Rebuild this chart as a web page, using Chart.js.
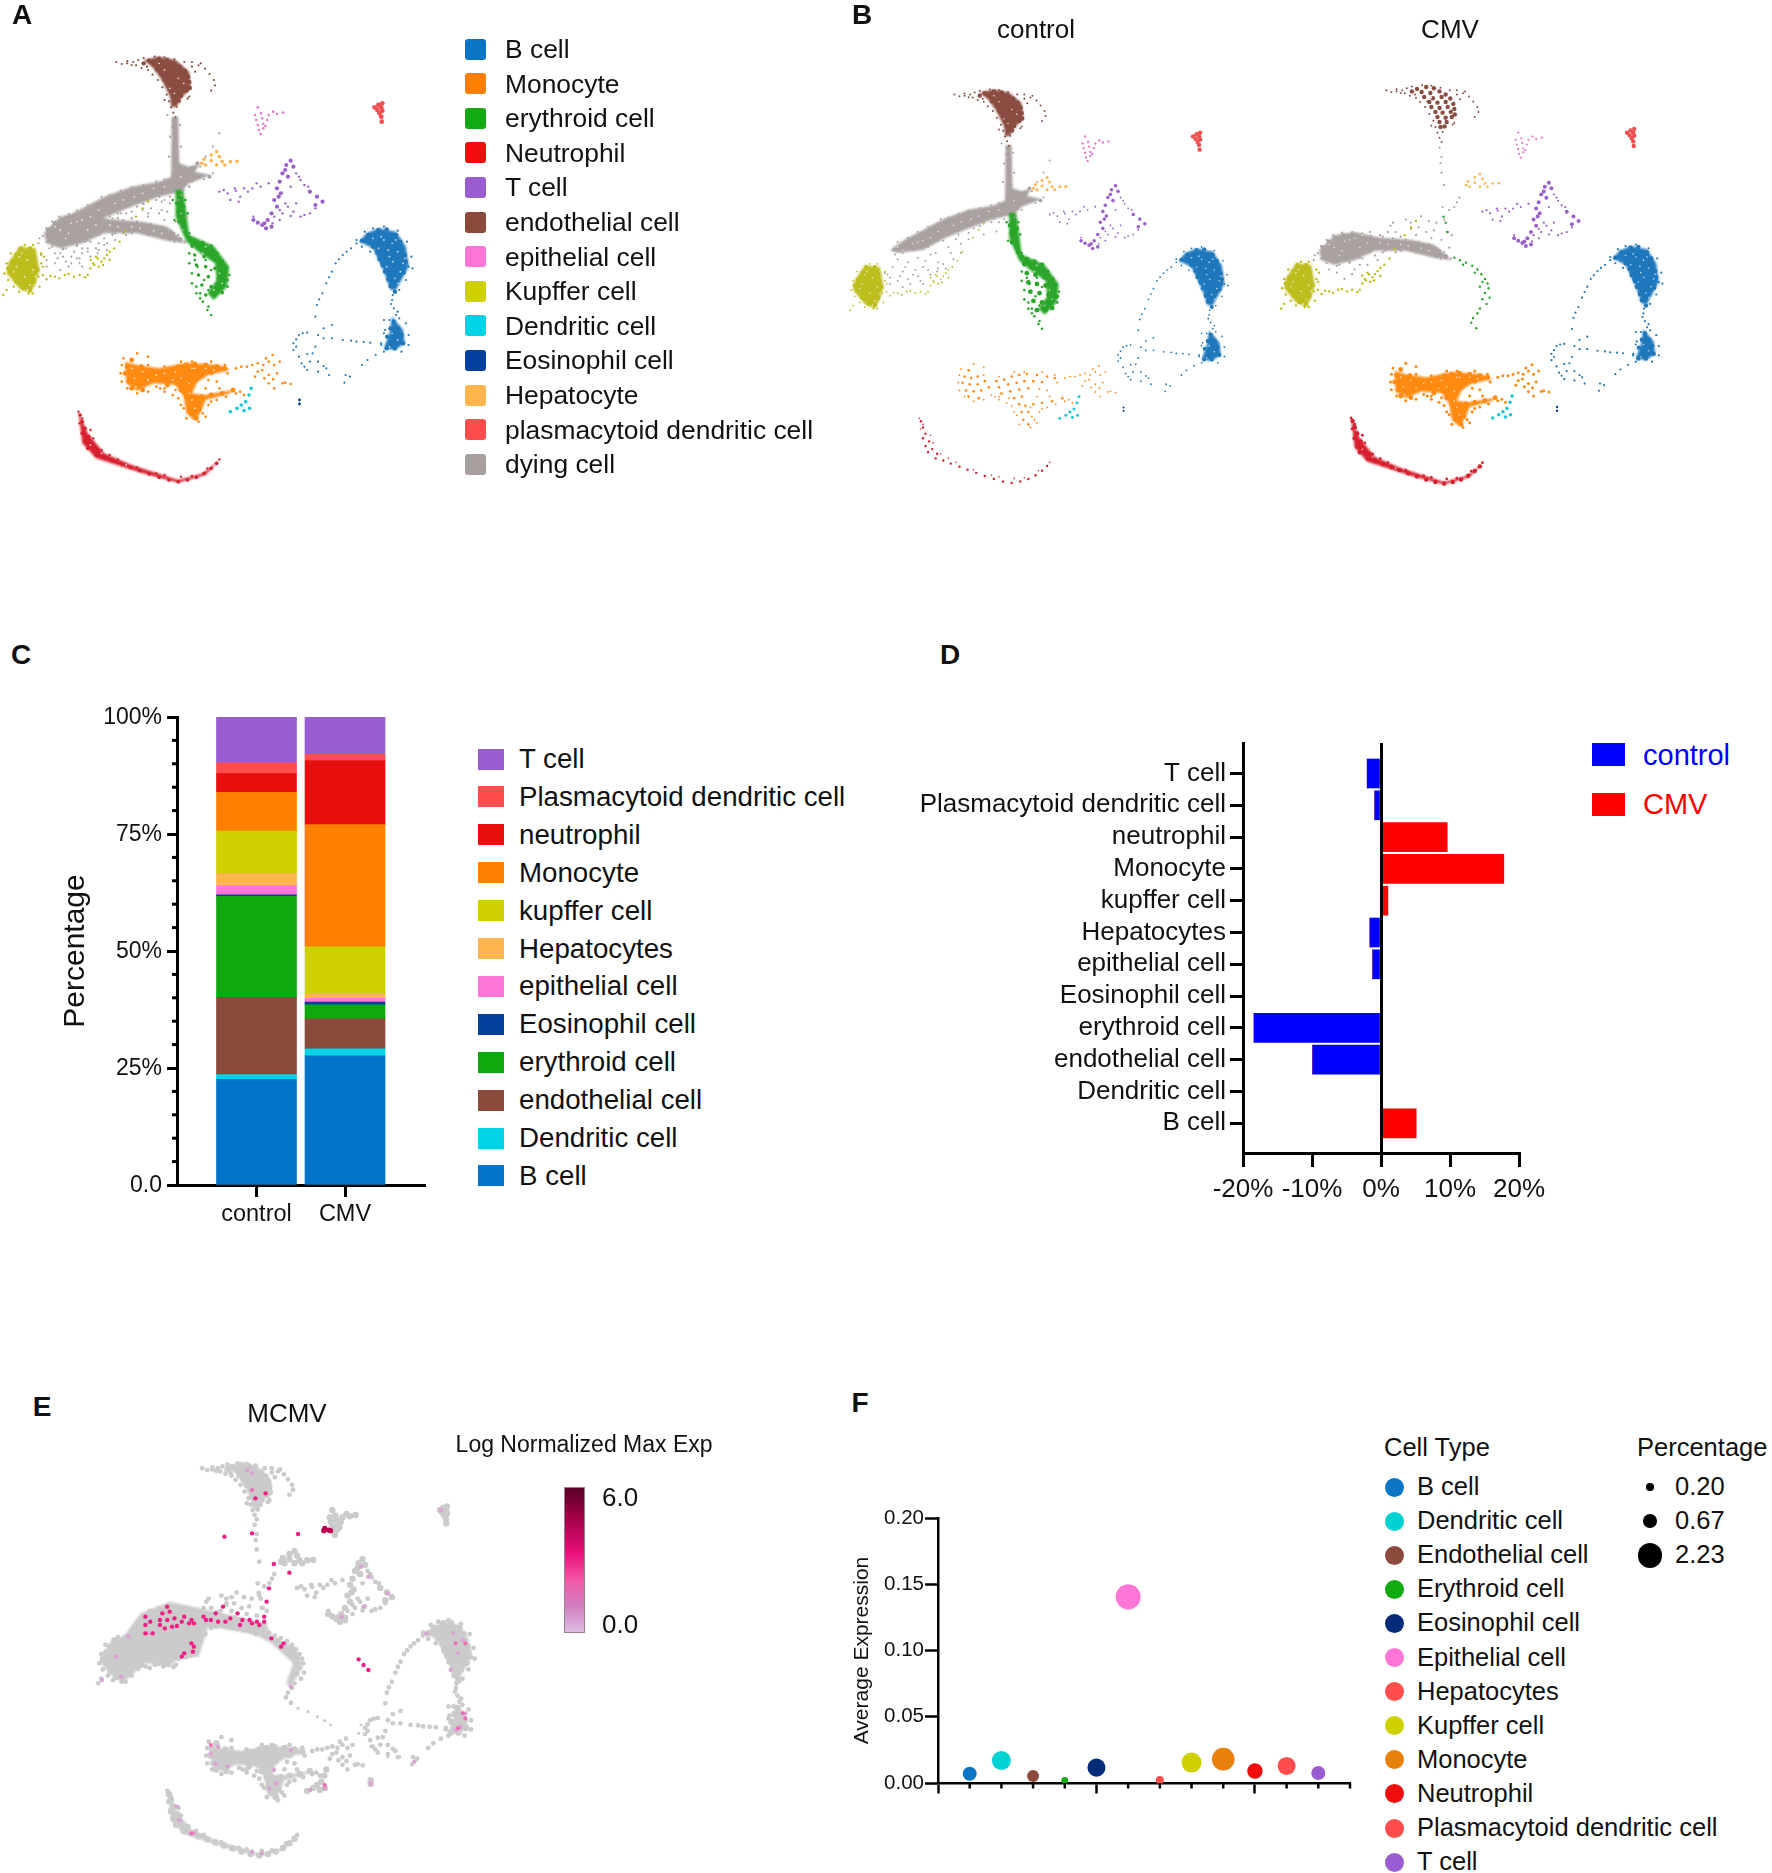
<!DOCTYPE html>
<html>
<head>
<meta charset="utf-8">
<title>CMV cell atlas</title>
<script src="https://cdn.jsdelivr.net/npm/chart.js@4"></script>
<style>
html,body{margin:0;padding:0;background:#fff;}
#page{position:relative;width:1772px;height:1873px;overflow:hidden;font-family:"Liberation Sans",Arial,sans-serif;color:#111;}
#page canvas{position:absolute;}
.t{position:absolute;white-space:nowrap;line-height:1;}
.sw{position:absolute;}
</style>
</head>
<body>
<div id="page"></div>
<script>
// panel C / D categories, bottom to top
const cellTypes = ['B cell','Dendritic cell','endothelial cell','erythroid cell','Eosinophil cell','epithelial cell','Hepatocytes','kupffer cell','Monocyte','neutrophil','Plasmacytoid dendritic cell','T cell'];
const groups = ['control','CMV'];
const controlShare = [22.6,1.0,16.5,21.6,0.3,2.0,2.6,9.0,8.3,4.0,2.3,9.9];
const cmvShare = [27.6,1.5,6.4,3.0,0.6,0.8,0.9,10.1,26.1,13.7,1.3,8.0];
const controlDiff = [0,0,-9.9,-18.4,0,-1.2,-1.6,0,0,0,-0.9,-2.0];
const cmvDiff = [5.1,0.2,0,0,0,0,0,1.0,17.8,9.6,0,0];

// panel F
const fTypes = ['B cell','Dendritic cell','Endothelial cell','Erythroid cell','Eosinophil cell','Epithelial cell','Hepatocytes','Kupffer cell','Monocyte','Neutrophil','Plasmacytoid dendritic cell','T cell'];
const avgExpression = [0.007,0.017,0.0053,0.002,0.0116,0.1405,0.0023,0.0154,0.018,0.009,0.0129,0.0076];
const percentage = [0.70,1.29,0.51,0.17,1.16,2.23,0.23,1.43,1.82,0.85,1.16,0.70];
const percentLegend = [0.20,0.67,2.23];

// UMAP points (same embedding for panels A, B, E)
const endothelialCore = [[272,182],[290,176],[305,180],[262,190],[281,192],[298,195],[316,190],[328,200],[286,208],[303,212],[320,208],[337,213],[296,224],[312,226],[328,224],[343,230],[300,240],[316,243],[332,240],[345,246],[308,256],[322,258],[338,255],[346,264],[312,272],[328,274],[340,272],[316,288],[330,288],[318,304],[326,302]];
const endothelialFringe = [[212,186],[222,192],[232,190],[243,186],[252,180],[262,174],[282,170],[300,172],[318,178],[336,186],[350,186],[362,196],[374,206],[382,222],[390,240],[392,256],[385,272],[248,196],[258,204],[270,210],[278,224],[288,240],[296,262],[304,284],[308,304],[312,322],[322,320],[316,338],[320,352],[345,290],[350,200],[356,215],[240,195],[268,200],[232,183],[366,190],[342,296],[300,300],[292,222]];
const dyingControlCore = [[317,360],[316,380],[318,400],[319,420],[320,440],[320,460],[322,480],[326,498],[330,515],[322,525],[340,520],[350,505],[330,535],[345,535],[318,545],[335,550],[360,490],[352,510],[365,528],[382,530],[305,552],[290,560],[300,568],[275,565],[262,572],[280,578],[250,576],[240,585],[258,590],[225,590],[210,598],[232,604],[195,605],[212,615],[180,618],[195,628],[165,635],[150,648],[170,650],[135,660],[150,668],[118,672]];
const dyingControlFringe = [[110,700],[130,690],[160,680],[190,660],[220,640],[250,620],[270,600],[100,720],[120,730],[140,715],[165,705],[90,745],[110,760],[130,770],[150,745],[180,730],[205,700],[225,670],[85,780],[100,790],[125,800],[145,790],[165,770],[195,750],[300,600],[310,590],[330,585],[345,560],[372,538],[388,520],[365,500],[375,470],[388,440],[400,400],[95,705],[115,745],[135,755],[155,725],[175,700],[200,680],[215,655],[240,635],[262,612],[285,600],[105,775],[120,785],[140,775],[160,755],[178,760],[190,735],[210,720],[225,700],[240,655],[270,640],[295,630],[75,765],[85,800],[110,810],[150,800],[180,750],[305,345],[328,375],[310,410],[330,440],[308,470],[185,590],[200,585],[220,572],[240,562],[262,555],[285,545],[300,538],[315,525],[310,575],[290,590],[265,598],[240,612],[220,628],[200,642],[180,660],[160,675],[135,688],[110,692],[92,692],[100,665],[120,650],[140,632],[160,615]];
const dyingCmvCore = [[88,690],[100,672],[112,660],[128,652],[145,650],[105,690],[122,675],[140,668],[158,660],[95,710],[115,705],[132,695],[150,685],[168,675],[180,665],[198,668],[215,670],[232,672],[250,675],[268,680],[285,685],[300,692],[315,702],[328,718],[110,725],[130,720],[150,710],[170,695],[190,685],[210,688],[235,690],[262,695],[290,700],[310,715]];
const dyingCmvFringe = [[140,735],[165,725],[190,715],[120,745],[150,760],[175,745],[100,760],[130,790],[200,650],[230,640],[260,630],[290,640],[220,620],[250,600],[280,590],[310,610],[330,640],[300,660],[270,650],[325,600],[322,560],[345,560],[355,530],[320,450],[318,420],[320,400],[316,370],[325,490],[340,650],[180,640],[240,655],[215,640],[275,625],[305,635],[320,665],[335,690],[160,745],[205,705],[230,705],[115,770],[145,775],[195,730],[225,610],[260,610],[295,605],[335,570],[350,545],[78,708],[84,685],[95,665],[108,650],[125,642],[145,640],[165,645],[182,652],[205,655],[225,660],[250,665],[275,672],[295,680],[312,692],[325,705],[338,725],[318,725],[295,712],[270,705],[240,700],[210,700],[180,705],[160,722],[140,738],[115,748],[95,740],[85,725],[70,730],[72,715]];
const kupfferCore = [[38,745],[55,745],[30,765],[48,762],[62,770],[22,785],[40,785],[58,790],[15,805],[32,805],[50,808],[68,810],[25,825],[42,825],[60,828],[30,845],[48,848],[62,845],[42,865],[55,870]];
const kupfferFringe = [[8,820],[12,870],[6,885],[70,830],[85,838],[100,830],[118,825],[135,830],[155,832],[160,825],[172,795],[185,785],[178,775],[195,765],[208,745],[218,725],[228,695],[248,650],[260,625],[270,605],[52,880],[78,825],[92,828],[108,835],[125,822],[145,825],[165,805],[190,775],[200,755],[75,790],[80,770],[170,790],[180,800],[175,770],[188,795],[200,780],[165,780],[20,760],[12,790],[15,840],[25,860],[35,875],[60,880],[72,860],[78,800],[75,760],[60,735],[45,735]];
const hepatocyteCore = [[385,465],[395,455],[400,470],[385,482],[372,478],[405,485],[420,485],[432,484],[395,495],[375,495],[368,490],[410,495]];
const epithelialCore = [[470,322],[476,340],[490,345],[505,342],[516,338],[467,360],[470,375],[480,372],[487,360],[472,390],[480,385],[484,378],[475,402],[498,335],[465,345],[478,355]];
const pdcCore = [[690,315],[683,322],[695,322],[688,330],[697,332],[692,340],[697,310],[695,350],[696,365]];
const tCellCore = [[530,482],[522,495],[535,500],[515,520],[525,530],[510,545],[505,565],[512,580],[500,600],[505,620],[495,640],[488,660],[478,675],[470,668],[485,685],[565,575],[578,590],[588,605],[575,615],[520,510],[508,590],[482,670],[462,660],[495,680]];
const tCellFringe = [[540,520],[548,540],[555,555],[530,560],[500,650],[515,640],[530,648],[548,650],[565,640],[575,625],[400,575],[415,580],[430,572],[445,565],[460,565],[475,560],[490,550],[420,600],[435,605],[462,650],[510,660],[525,620],[540,610],[408,570],[438,590],[452,575],[468,550],[545,530],[562,560],[520,610],[535,635],[555,645],[497,670],[510,630],[428,565]];
const erythroidControlCore = [[325,578],[330,595],[322,610],[335,620],[325,635],[332,650],[326,665],[335,680],[338,695],[345,712],[355,720],[370,728],[385,738],[350,735],[365,745],[380,755],[395,760],[355,765],[372,770],[390,778],[405,785],[358,795],[375,800],[392,805],[410,810],[362,825],[380,830],[398,835],[414,840],[368,855],[385,860],[400,865],[375,885],[392,885],[405,878]];
const erythroidControlFringe = [[350,850],[358,880],[370,905],[380,920],[385,945],[378,930],[415,860],[345,790],[345,760],[418,825],[365,895],[350,740],[355,780],[350,820],[358,860],[365,880],[360,800],[370,745],[375,780],[385,810],[380,870],[372,840],[345,700],[315,600],[342,640],[318,660],[338,600]];
const erythroidCmvFringe = [[324,591],[328,610],[332,640],[345,722],[356,730],[368,738],[380,748],[390,760],[398,775],[405,790],[410,805],[400,800],[412,820],[405,835],[414,850],[400,855],[408,870],[395,885],[390,900],[382,915],[378,930],[388,948],[362,745],[385,770],[395,815]];
const bCellCore = [[690,690],[705,688],[672,705],[688,705],[705,705],[722,705],[660,722],[678,722],[695,722],[712,722],[730,725],[680,740],[696,740],[713,740],[732,745],[688,758],[705,758],[722,760],[738,765],[692,778],[708,778],[725,780],[740,785],[698,796],[715,798],[732,800],[702,815],[720,818],[736,818],[708,838],[725,838],[712,858],[720,875],[718,965],[726,985],[712,985],[732,1005],[718,1005],[706,1010],[725,1025],[712,1030],[735,1030],[720,1045],[705,1045]];
const bCellFringe = [[650,730],[640,745],[625,765],[612,790],[605,815],[595,850],[588,880],[578,915],[575,950],[590,985],[605,975],[605,1015],[625,1020],[650,1025],[675,1028],[695,1035],[535,1030],[545,1005],[560,998],[580,1005],[590,1015],[535,1050],[545,1070],[560,1062],[575,1040],[550,1090],[565,1085],[580,1085],[560,1110],[580,1115],[595,1105],[600,1125],[630,1125],[628,1148],[638,1130],[660,1095],[685,1065],[715,900],[718,925],[722,945],[700,960],[745,800],[650,720],[700,1000],[716,885],[713,912],[725,935],[728,955],[632,755],[618,778],[600,832],[582,898],[640,1022],[663,1026],[540,1018],[552,1000],[540,1040],[570,1060],[555,1100],[590,1098],[670,1080],[665,695],[680,685],[700,680],[725,692],[742,725],[750,770],[752,805],[740,840],[728,870],[695,790],[690,770],[675,755],[660,740],[740,970],[745,1005],[745,1035],[732,1055],[700,1055],[695,1030],[702,990],[710,960]];
const monocyteCore = [[240,1080],[232,1100],[245,1105],[258,1100],[228,1120],[242,1125],[258,1125],[272,1115],[235,1145],[250,1148],[265,1145],[280,1135],[295,1115],[310,1110],[325,1100],[340,1095],[355,1092],[375,1095],[395,1100],[410,1105],[300,1135],[318,1125],[335,1120],[350,1115],[368,1115],[385,1118],[305,1155],[322,1148],[340,1142],[358,1138],[330,1170],[345,1165],[340,1190],[352,1195],[368,1190],[345,1215],[358,1215],[348,1240],[358,1255],[385,1185],[405,1180],[425,1170],[240,1165],[260,1170]];
const monocyteFringe = [[430,1105],[450,1100],[470,1090],[485,1075],[497,1065],[480,1095],[500,1095],[510,1085],[470,1115],[490,1125],[505,1120],[465,1130],[490,1150],[500,1165],[515,1150],[530,1152],[380,1140],[400,1165],[375,1165],[445,1185],[412,1190],[395,1200],[380,1215],[365,1230],[225,1075],[285,1160],[300,1175],[315,1185],[335,1225],[250,1060],[270,1070],[440,1100],[460,1095],[490,1085],[478,1110],[498,1138],[482,1135],[520,1148],[395,1145],[415,1120],[438,1175],[370,1240],[362,1200],[320,1170],[292,1165],[222,1095],[220,1120],[222,1145],[232,1165],[250,1180],[270,1175],[300,1165],[350,1085],[385,1085],[410,1095],[330,1085],[300,1100],[270,1095],[375,1250],[362,1265],[340,1255],[330,1215],[325,1195],[430,1180],[385,1205]];
const dendriticCore = [[458,1165],[454,1185],[448,1205],[455,1225],[445,1232],[432,1225],[420,1235],[440,1215]];
const eosinophilCore = [[546,1200],[546,1212]];
const neutrophilCore = [[146,1245],[150,1265],[155,1285],[150,1300],[162,1310],[155,1325],[168,1335],[160,1345],[178,1350],[175,1365],[190,1372],[205,1382],[222,1392],[238,1402],[255,1412],[272,1422],[290,1432],[308,1440],[325,1445],[342,1440],[358,1432],[372,1420],[385,1405],[395,1390]];
const neutrophilFringe = [[143,1235],[145,1270],[165,1290],[185,1350],[200,1365],[300,1425],[330,1430],[400,1378],[150,1255],[170,1315],[215,1378],[250,1402],[285,1420],[350,1428],[378,1405]];

// dense parts of the clusters, as outlines
const endothelialOutline = [[262,180],[290,170],[320,180],[345,215],[348,265],[330,295],[322,320],[312,322],[310,290],[295,240],[280,205]];
const dyingControlOutline = [[313,350],[325,350],[327,490],[345,500],[365,490],[355,515],[385,525],[345,550],[330,575],[290,590],[240,620],[195,650],[150,690],[100,700],[85,690],[115,655],[150,625],[190,590],[240,560],[290,545],[312,530]];
const dyingCmvOutline = [[80,700],[110,650],[150,640],[200,658],[260,665],[305,680],[340,730],[305,722],[250,700],[190,700],[150,730],[110,745],[85,730]];
const kupfferOutline = [[35,740],[65,745],[72,810],[65,850],[55,880],[35,865],[12,820],[15,790]];
const erythroidOutline = [[320,570],[334,570],[340,640],[345,705],[390,738],[418,800],[414,860],[390,900],[378,880],[395,840],[392,790],[365,760],[340,725],[320,650]];
const bTopOutline = [[690,685],[722,695],[740,740],[745,800],[735,830],[722,870],[712,870],[700,815],[680,745],[655,725],[668,700]];
const bLowOutline = [[715,950],[735,990],[738,1030],[720,1050],[700,1045],[710,1000]];
const monocyteOutline = [[228,1085],[250,1095],[290,1105],[340,1088],[400,1095],[420,1110],[380,1125],[360,1145],[350,1180],[372,1185],[425,1170],[420,1180],[375,1200],[365,1240],[355,1262],[340,1240],[335,1190],[320,1155],[280,1150],[250,1172],[230,1150]];
const neutrophilOutline = [[143,1235],[160,1300],[190,1360],[240,1395],[325,1440],[370,1420],[402,1378],[375,1425],[325,1448],[260,1420],[175,1375],[150,1330]];
// grey body of the dying/kupffer lobe, in panel E's own frame
const mcmvLobeOutline = [[290,700],[350,665],[430,690],[520,720],[550,730],[560,770],[610,800],[625,860],[600,920],[590,910],[605,850],[560,790],[520,760],[430,740],[410,830],[370,835],[350,860],[300,850],[260,900],[235,880],[210,850],[225,800],[260,760]];

// paler specks inside the dense parts
const specks = [[300,210],[325,235],[310,265],[335,250],[290,190],[318,280],[300,560],[260,580],[225,600],[180,630],[130,670],[330,530],[110,690],[140,665],[175,675],[215,680],[255,685],[295,700],[125,700],[160,690],[30,800],[50,780],[45,830],[60,810],[35,770],[55,855],[370,760],[385,790],[400,820],[380,850],[365,810],[390,870],[405,850],[375,740],[360,780],[695,710],[715,730],[690,745],[725,755],[710,770],[735,790],[705,800],[720,835],[700,720],[730,815],[715,1000],[725,1020],[710,1040],[260,1115],[245,1135],[300,1120],[330,1135],[355,1105],[390,1110],[345,1180],[355,1225],[270,1140],[315,1140],[240,1105],[375,1105],[165,1335],[185,1360],[230,1395],[100,680],[150,660],[120,715],[200,675],[240,680],[280,692],[210,610],[245,590],[280,565],[165,650],[40,760],[25,815],[65,830],[50,870],[680,715],[722,720],[708,750],[738,775],[716,785],[726,850],[350,1105],[320,1115],[285,1125],[248,1160],[345,1150],[350,1200]];

// panel E viral expression, in that panel's own frame
const mcmvExtraGrey = [[590,955],[600,970],[615,985],[635,995],[655,1010],[670,1022],[682,1035],[745,1035],[740,1060],[765,1100],[800,1130],[825,1130]];
const mcmvLow = [[240,830],[265,770],[305,760],[250,890],[210,900],[435,1120],[445,1150],[470,1160],[565,1170],[555,1225],[570,1210],[450,1100],[600,1110],[365,1280],[370,1320],[400,1360],[520,1415],[540,1420],[760,590],[745,560],[800,640],[705,710],[750,680],[910,390],[880,760],[935,760],[955,780],[945,820],[960,1000],[950,1040],[940,1050],[855,1145],[670,1225],[640,1230],[765,1210],[520,280],[510,270],[600,920],[930,870]];
const mcmvMid = [[940,790],[955,1000],[960,1015],[945,1045],[395,1360],[520,330],[435,1095],[670,1215],[960,790]];
const mcmvHigh = [[345,680],[300,710],[310,725],[330,735],[345,720],[360,715],[375,725],[390,730],[365,738],[340,745],[400,730],[420,710],[435,720],[450,725],[465,725],[460,680],[490,700],[495,735],[515,720],[530,725],[545,710],[545,725],[560,775],[580,800],[398,815],[375,830],[550,665],[527,355],[520,460],[548,340],[565,552],[597,578],[555,625],[463,470],[615,462],[740,838],[750,855],[760,870],[300,735],[315,760],[335,700],[350,695],[355,740],[380,710],[395,720],[330,720],[300,760],[395,790],[400,800],[380,820],[425,720],[445,700],[475,715],[500,720],[520,730],[535,735],[585,790]];
const mcmvTop = [[670,445],[678,450],[682,452],[668,452]];

// styles
const umapColor = {b:'#1F78BC',mono:'#FF8A12',ery:'#2BA62B',neu:'#D7202E',t:'#9A60CC',endo:'#8B4D42',epi:'#E878D2',kup:'#BDBD1E',dc:'#1CC8D8',eos:'#0A3C8C',hep:'#FDB44D',pdc:'#EE5050',dying:'#A9A2A0'};
const stackColor = ['#0075C9','#00D3E8','#8B4A3B','#0FA90F','#023F9E','#FF76D7','#FFB54D','#CFD000','#FF8000','#E80E0E','#FF4D4D','#995CD1'];
const fColor = ['#0A75C5','#00D2D2','#8B4A3B','#11AA11','#022C7A','#FF76D7','#FF4D4D','#CFD000','#E8800C','#F00D0D','#FF4D4D','#995CD1'];

const page = document.getElementById('page');
Chart.defaults.font.family = '"Liberation Sans",Arial,sans-serif';
Chart.defaults.color = '#111';
Chart.defaults.animation = false;

function text(str,x,y,size,opts){
    opts = opts || {};
    const el = document.createElement('div');
    el.className = 't';
    el.textContent = str;
    el.style.left = x+'px';
    el.style.top = y+'px';
    el.style.fontSize = size+'px';
    if(opts.bold) el.style.fontWeight = 'bold';
    if(opts.color) el.style.color = opts.color;
    el.style.transform = opts.center ? 'translate(-50%,-50%)' : 'translateY(-50%)';
    page.appendChild(el);
}
function box(x,y,w,h,color,radius){
    const el = document.createElement('div');
    el.className = 'sw';
    el.style.cssText = 'left:'+x+'px;top:'+y+'px;width:'+w+'px;height:'+h+'px;background:'+color+';border-radius:'+(radius||0)+'px';
    page.appendChild(el);
    return el;
}
// area = chart area in page pixels, m = room kept round it for axes
function makeChart(area,m,config){
    const c = document.createElement('canvas');
    c.width = area.r-area.l+m.l+m.r;
    c.height = area.b-area.t+m.t+m.b;
    c.style.left = (area.l-m.l)+'px';
    c.style.top = (area.t-m.t)+'px';
    page.appendChild(c);
    config.options = config.options || {};
    config.options.responsive = false;
    config.options.layout = {autoPadding:false,padding:{left:0,top:m.t,right:m.r,bottom:0}};
    config.options.plugins = Object.assign({legend:{display:false},tooltip:{enabled:false}},config.options.plugins);
    return new Chart(c,config);
}
const fixW = w => s => {s.width = w};
const fixH = h => s => {s.height = h};
const minorTicks = (axis,vals,len,w) => ({
    id:'minor'+axis,
    afterDraw(chart){
        const s = chart.scales[axis], g = chart.ctx;
        g.save();
        g.strokeStyle = '#000';
        g.lineWidth = w;
        vals.forEach(v=>{
            const p = s.getPixelForValue(v);
            g.beginPath();
            if(axis==='x'){g.moveTo(p,s.top);g.lineTo(p,s.top+len);}
            else{g.moveTo(s.right,p);g.lineTo(s.right-len,p);}
            g.stroke();
        });
        g.restore();
    }
});
// fills the dense cluster outlines under the dots, through the chart's scales
const blobs = (list,color,xId,yId) => ({
    id:'blobs'+(xId||''),
    beforeDatasetsDraw(chart){
        const xs = chart.scales[xId||'x'], ys = chart.scales[yId||'y'], g = chart.ctx;
        g.save();
        g.filter = 'blur(1.2px)';
        list.forEach(d=>{
            g.fillStyle = color || umapColor[d[1]];
            g.beginPath();
            d[0].forEach((p,i)=>{
                const X = xs.getPixelForValue(p[0]), Y = ys.getPixelForValue(p[1]);
                if(i) g.lineTo(X,Y); else g.moveTo(X,Y);
            });
            g.closePath();
            g.fill();
        });
        g.restore();
    }
});
const pts = a => a.map(p=>({x:p[0],y:p[1]}));
const layer = (data,color,r,extra) => Object.assign({data:pts(data),backgroundColor:color,borderWidth:0,pointRadius:r,pointHoverRadius:r},extra||{});

// Panel A
const umapA = [
    [dyingControlFringe,'dying',1.1],[dyingCmvFringe,'dying',1.1],[dyingControlCore,'dying',2],[dyingCmvCore,'dying',2.4],
    [endothelialFringe,'endo',1.1],[endothelialCore,'endo',2.2],[kupfferFringe,'kup',1.2],[kupfferCore,'kup',2.2],
    [hepatocyteCore,'hep',1.8],[epithelialCore,'epi',1.3],[pdcCore,'pdc',2.4],[tCellFringe,'t',1.2],[tCellCore,'t',2.1],
    [erythroidControlFringe,'ery',1.3],[erythroidControlCore,'ery',1.8],[bCellFringe,'b',1.1],[bCellCore,'b',2.2],
    [monocyteFringe,'mono',1.3],[monocyteCore,'mono',2.4],[dendriticCore,'dc',1.8],[eosinophilCore,'eos',1.4],
    [neutrophilFringe,'neu',1.2],[neutrophilCore,'neu',1.8]
];
const blobsA = [[dyingControlOutline,'dying'],[dyingCmvOutline,'dying'],[endothelialOutline,'endo'],[kupfferOutline,'kup'],[erythroidOutline,'ery'],[bTopOutline,'b'],[bLowOutline,'b'],[monocyteOutline,'mono'],[neutrophilOutline,'neu']];
// Panel B, control
const umapControl = [
    [dyingControlFringe,'dying',1],[dyingControlCore,'dying',1.8],
    [endothelialFringe,'endo',1],[endothelialCore,'endo',2.2],[kupfferFringe,'kup',0.9],[kupfferCore,'kup',2],
    [hepatocyteCore,'hep',1.5],[epithelialCore,'epi',1.2],[pdcCore,'pdc',2.2],[tCellFringe,'t',0.9],[tCellCore,'t',1.8],
    [erythroidControlFringe,'ery',1.3],[erythroidControlCore,'ery',2.4],[bCellFringe,'b',0.9],[bCellCore,'b',2],
    [monocyteFringe,'mono',0.9],[monocyteCore,'mono',1.3],[dendriticCore,'dc',1.5],[eosinophilCore,'eos',1],
    [neutrophilFringe,'neu',0.8],[neutrophilCore,'neu',1.2]
];
const blobsControl = [[dyingControlOutline,'dying'],[endothelialOutline,'endo'],[kupfferOutline,'kup'],[erythroidOutline,'ery'],[bTopOutline,'b'],[bLowOutline,'b']];
// Panel B, CMV
const umapCmv = [
    [dyingCmvFringe,'dying',1.1],[dyingCmvCore,'dying',2.4],
    [endothelialFringe,'endo',1],[endothelialCore,'endo',2.2],[kupfferFringe,'kup',1.2],[kupfferCore,'kup',2],
    [hepatocyteCore,'hep',1.3],[epithelialCore,'epi',1.1],[pdcCore,'pdc',2.2],[tCellFringe,'t',1.1],[tCellCore,'t',2],
    [erythroidCmvFringe,'ery',1.2],[bCellFringe,'b',1.1],[bCellCore,'b',2.2],
    [monocyteFringe,'mono',1.5],[monocyteCore,'mono',2.4],[dendriticCore,'dc',1.8],[eosinophilCore,'eos',1.2],
    [neutrophilFringe,'neu',1.4],[neutrophilCore,'neu',2.2]
];
const blobsCmv = [[dyingCmvOutline,'dying'],[kupfferOutline,'kup'],[bTopOutline,'b'],[bLowOutline,'b'],[monocyteOutline,'mono'],[neutrophilOutline,'neu']];
const umapOptions = (xMin,xMax,yMin,yMax) => ({scales:{
    x:{type:'linear',display:false,min:xMin,max:xMax},
    y:{type:'linear',display:false,min:yMin,max:yMax,reverse:true}
}});
// first dataset is drawn on top, so the list goes in backwards
const umapSets = (list,speckR) => [layer(specks,'rgba(255,255,255,0.75)',speckR)].concat(list.map(d=>layer(d[0],umapColor[d[1]],d[2])).reverse());

makeChart({l:0,t:0,r:860,b:520},{l:0,t:0,r:0,b:0},{type:'scatter',data:{datasets:umapSets(umapA,0.9)},options:umapOptions(0,1568,0,1560),plugins:[blobs(blobsA)]});
makeChart({l:847,t:37,r:1232,b:521},{l:0,t:0,r:0,b:0},{type:'scatter',data:{datasets:umapSets(umapControl,0.8)},options:umapOptions(0,760,0,1568),plugins:[blobs(blobsControl)]});
makeChart({l:1278,t:32,r:1738,b:522},{l:0,t:0,r:0,b:0},{type:'scatter',data:{datasets:umapSets(umapCmv,0.8)},options:umapOptions(0,900,0,1568),plugins:[blobs(blobsCmv)]});

// Panel A legend
const legendA = [['B cell','#0A75C5'],['Monocyte','#FF8000'],['erythroid cell','#12A912'],['Neutrophil','#F00D0D'],['T cell','#995CD1'],['endothelial cell','#8B4A3B'],['epithelial cell','#FF76D7'],['Kupffer cell','#CFD000'],['Dendritic cell','#00D3E8'],['Eosinophil cell','#023F9E'],['Hepatocyte','#FFB54D'],['plasmacytoid dendritic cell','#FF4D4D'],['dying cell','#A8A09E']];
legendA.forEach((d,i)=>{
    const y = 49+i*34.6;
    box(465,y-10.5,21,21,d[1],3);
    text(d[0],505,y,26.4);
});

// panel letters and small titles
text('A',22,15,28,{bold:true,center:true});
text('B',862,15,28,{bold:true,center:true});
text('C',21,655,28,{bold:true,center:true});
text('D',950,655,28,{bold:true,center:true});
text('E',42,1407,28,{bold:true,center:true});
text('F',860,1403,28,{bold:true,center:true});
text('control',1036,29,26,{center:true});
text('CMV',1450,29,26,{center:true});

// Panel C
makeChart({l:177,t:717,r:426,b:1185},{l:177,t:26,r:0,b:46},{
    type:'bar',
    data:{datasets:cellTypes.map((name,i)=>({
        label:name,
        data:[{x:1,y:controlShare[i]},{x:2,y:cmvShare[i]}],
        backgroundColor:stackColor[i],
        barThickness:80,
        borderWidth:0
    }))},
    options:{scales:{
        x:{type:'linear',stacked:true,offset:false,min:0.102,max:2.915,afterFit:fixH(46),
            afterBuildTicks:s=>{s.ticks=[{value:1},{value:2}]},
            border:{color:'#000',width:3},
            grid:{offset:false,drawOnChartArea:false,tickLength:12,tickWidth:3,tickColor:'#000'},
            ticks:{callback:v=>groups[v-1],font:{size:23.5},padding:3,maxRotation:0,autoSkip:false}},
        y:{stacked:true,min:0,max:100,afterFit:fixW(177),
            border:{color:'#000',width:3},
            grid:{drawOnChartArea:false,tickLength:10,tickWidth:3,tickColor:'#000'},
            ticks:{stepSize:25,callback:v=>v===0?'0.0':v+'%',font:{size:23},padding:5,labelOffset:1},
            title:{display:true,text:'Percentage',font:{size:30,weight:'normal'},color:'#111',padding:{top:58,bottom:0}}}
    }},
    plugins:[minorTicks('y',[5,10,15,20,30,35,40,45,55,60,65,70,80,85,90,95],5,3)]
});
cellTypes.slice().reverse().forEach((name,i)=>{
    const y = 759+i*37.9;
    box(478,y-10.5,26,21,stackColor[11-i]);
    text(name,519,y,27.7);
});

// Panel D
makeChart({l:1243,t:742.5,r:1519.5,b:1152.5},{l:330,t:24,r:45,b:60},{
    type:'bar',
    data:{datasets:[
        {label:'control',data:controlDiff.map((v,i)=>({x:v,y:i})),backgroundColor:'#0000FF',barThickness:29,borderWidth:0},
        {label:'CMV',data:cmvDiff.map((v,i)=>({x:v,y:i})),backgroundColor:'#FF0000',barThickness:29,borderWidth:0}
    ]},
    options:{indexAxis:'y',scales:{
        x:{stacked:true,min:-20,max:20,afterFit:fixH(60),
            border:{color:'#000',width:3,z:1},
            grid:{z:1,tickLength:14,tickWidth:3,tickColor:'#000',lineWidth:3,color:c=>c.tick&&c.tick.value===0?'#000':'rgba(0,0,0,0)'},
            ticks:{stepSize:10,callback:v=>v+'%',font:{size:26},padding:7,maxRotation:0}},
        y:{type:'linear',stacked:true,offset:false,min:-0.934,max:11.959,afterFit:fixW(330),
            afterBuildTicks:s=>{s.ticks=cellTypes.map((n,i)=>({value:i}))},
            border:{color:'#000',width:3},
            grid:{offset:false,drawOnChartArea:false,tickLength:13,tickWidth:3,tickColor:'#000'},
            ticks:{callback:v=>cellTypes[v],font:{size:26},padding:4,autoSkip:false}}
    }}
});
box(1592,743,33,23,'#0000FF');
box(1592,793,33,23,'#FF0000');
text('control',1643,754.5,29,{color:'#0000FF'});
text('CMV',1643,804,29,{color:'#FF0000'});

// Panel E, two pairs of scales: the embedding and the panel's own frame
const greyPoints = [dyingCmvCore,endothelialCore,kupfferCore,hepatocyteCore,epithelialCore,pdcCore,tCellCore,bCellCore,monocyteCore,dendriticCore,eosinophilCore,neutrophilCore];
const greyFringe = [dyingCmvFringe,endothelialFringe,kupfferFringe,tCellFringe,erythroidCmvFringe,bCellFringe,monocyteFringe,neutrophilFringe];
const blobsE = [[dyingCmvOutline],[endothelialOutline],[kupfferOutline],[bTopOutline],[bLowOutline],[monocyteOutline],[neutrophilOutline]];
makeChart({l:0,t:1380,r:760,b:1873},{l:0,t:0,r:0,b:0},{
    type:'scatter',
    data:{datasets:[
        layer(mcmvTop,'#B8004F',2.6,{xAxisID:'xe',yAxisID:'ye'}),
        layer(mcmvHigh,'#EE1F84',2.2,{xAxisID:'xe',yAxisID:'ye'}),
        layer(mcmvMid,'#EE6DB4',2,{xAxisID:'xe',yAxisID:'ye'}),
        layer(mcmvLow,'#D9A4D2',2.2,{xAxisID:'xe',yAxisID:'ye'}),
        layer(mcmvExtraGrey,'#CBCBCB',1.6,{xAxisID:'xe',yAxisID:'ye'}),
        ...greyPoints.map(a=>layer(a,'#CBCBCB',3.2,{xAxisID:'x',yAxisID:'y'})),
        ...greyFringe.map(a=>layer(a,'#CBCBCB',2.4,{xAxisID:'x',yAxisID:'y'}))
    ]},
    options:{scales:{
        x:{type:'linear',display:false,min:-188.9,max:1317.8},
        y:{type:'linear',display:false,min:-100.7,max:1501.5,reverse:true},
        xe:{type:'linear',display:false,min:0,max:1568},
        ye:{type:'linear',display:false,min:0,max:1479,reverse:true}
    }},
    plugins:[blobs(blobsE,'#CBCBCB'),blobs([[mcmvLobeOutline]],'#CBCBCB','xe','ye')]
});
text('MCMV',287,1413,26,{center:true});
text('Log Normalized Max Exp',455.6,1444,23);
const bar = box(564,1487,21,146,'linear-gradient(to bottom,#5A0026 0%,#A00045 20%,#E8107A 45%,#F25BA8 65%,#D080C0 82%,#DDBCE2 100%)');
bar.style.boxSizing = 'border-box';
bar.style.border = '1px solid #9a7f96';
text('6.0',602,1497,26);
text('0.0',602,1624,26);

// Panel F
const bubbleR = p => 8.37*Math.sqrt(p);
makeChart({l:938,t:1518,r:1350,b:1783},{l:98,t:14,r:8,b:20},{
    type:'bubble',
    data:{datasets:[{
        data:avgExpression.map((v,i)=>({x:i+1,y:v,r:bubbleR(percentage[i])})),
        backgroundColor:fColor,
        borderWidth:0,
        clip:false
    }]},
    options:{scales:{
        x:{type:'linear',min:0,max:13,afterFit:fixH(20),
            afterBuildTicks:s=>{s.ticks=[{value:0},{value:5},{value:10}]},
            border:{color:'#000',width:2.5},
            grid:{drawOnChartArea:false,tickLength:10.5,tickWidth:2.5,tickColor:'#000'},
            ticks:{display:false}},
        y:{min:0,max:0.2,afterFit:fixW(98),
            border:{color:'#000',width:2.5},
            grid:{drawOnChartArea:false,tickLength:13,tickWidth:2.5,tickColor:'#000'},
            ticks:{stepSize:0.05,callback:v=>v.toFixed(2),font:{size:20.5},padding:1},
            title:{display:true,text:'Average Expression',font:{size:21,weight:'normal'},color:'#111',padding:{top:9.4,bottom:0}}}
    }},
    plugins:[minorTicks('x',[1,2,3,4,6,7,8,9,11,12,13],5.5,2.5)]
});
text('Cell Type',1384,1448,25.5);
fTypes.forEach((name,i)=>{
    const y = 1487+i*34.1;
    box(1385,y-9.5,19,19,fColor[i],10);
    text(name,1417,y,25.5);
});
text('Percentage',1637,1448,25.5);
percentLegend.forEach((p,i)=>{
    const y = 1487+i*34.1, r = bubbleR(p);
    box(1650-r,y-r,r*2,r*2,'#000',r);
    text(p.toFixed(2),1675,y,25.5);
});
</script>
</body>
</html>
